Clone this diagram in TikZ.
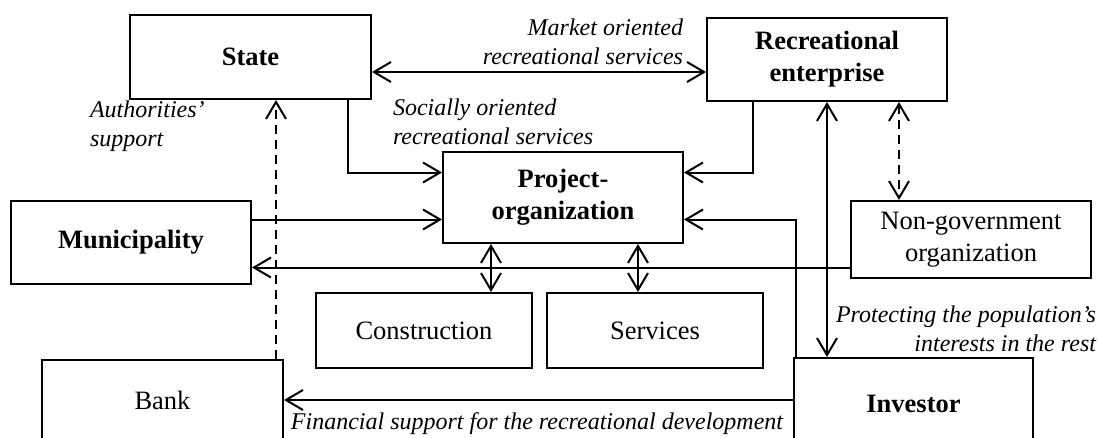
\documentclass[tikz,border=0pt]{standalone}
\usepackage{fontspec}
\setmainfont{Liberation Serif}
\usetikzlibrary{arrows.meta}

\begin{document}
\begin{tikzpicture}[
    x=1pt, y=-1pt,
    >={Straight Barb[length=17pt,width=20pt]},
    line width=2pt,
    block/.style={
        draw,
        rectangle,
        inner sep=0pt,
        align=center,
        font=\fontsize{26.5}{32}\selectfont
    },
    boldblock/.style={
        block,
        font=\fontsize{26.5}{32}\selectfont\bfseries
    },
    note/.style={
        inner sep=0pt,
        font=\fontsize{24}{28.5}\selectfont\itshape
    },
    dashline/.style={dash pattern=on 9pt off 6pt}
]
    \useasboundingbox (0,0) rectangle (1098,437);

    % Nodes
    \node[boldblock, minimum width=241pt, minimum height=84pt] (state) at (250.5,57)
    {State};

    \node[boldblock, minimum width=240pt, minimum height=83pt] (rec) at (827,59.5)
    {Recreational\\enterprise};

    \node[boldblock, minimum width=240pt, minimum height=91pt] (proj) at (563,197.5)
    {Project-\\organization};

    \node[boldblock, minimum width=240pt, minimum height=83pt] (muni) at (131,242.5)
    {Municipality};

    \node[block, minimum width=240pt, minimum height=77pt] (ngo) at (971,239.5)
    {Non-government\\organization};

    \node[block, minimum width=216pt, minimum height=75pt] (constr) at (424,330.5)
    {Construction};

    \node[block, minimum width=216pt, minimum height=75pt] (serv) at (655,330.5)
    {Services};

    \node[block, minimum width=241pt, minimum height=80pt] (bank) at (162.5,400)
    {Bank};

    \node[boldblock, minimum width=239pt, minimum height=92pt] (inv) at (913.5,404)
    {Investor};

    % Labels
    \node[note, anchor=east, align=right] (market) at (684,42)
    {Market oriented\\recreational services};
    \node[note, anchor=west, align=left] (social) at (392,122)
    {Socially oriented\\recreational services};
    \node[note, anchor=west, align=left] (authority) at (89,126)
    {Authorities’\\support};
    \node[note, anchor=east, align=right] (protect) at (1097,329)
    {Protecting the population’s\\interests in the rest};
    \node[note] (finance) at (537,424)
    {Financial support for the recreational development};

    % Arrows
    \draw[<->] ([yshift=-15pt]state.east) -- ([yshift=-15pt]state.east -| rec.west);
    \draw[->] ([xshift=-24pt]state.south east) |- ([yshift=25pt]proj.west);
    \draw[->] ([xshift=47pt]rec.south west) |- ([yshift=25pt]proj.east);
    \draw[->] ([yshift=-22pt]proj.west -| muni.east) -- ([yshift=-22pt]proj.west);
    \draw[->] ([yshift=-28pt]ngo.west) -- ([yshift=-28pt]ngo.west -| muni.east);
    \draw[->] ([xshift=3pt]inv.north west) |- ([yshift=-22pt]proj.east);
    \draw[<->] (rec.south) -- (rec.south |- inv.north);
    \draw[<->, dashline] ([xshift=72pt]rec.south) -- ([xshift=72pt]rec.south |- ngo.north);
    \draw[<->] ([xshift=-72pt]proj.south) -- ([xshift=-72pt]proj.south |- constr.north);
    \draw[<->] ([xshift=75pt]proj.south) -- ([xshift=75pt]proj.south |- serv.north);
    \draw[->, dashline] ([xshift=-8pt]bank.north east) -- ([xshift=-8pt]bank.north east |- state.south);
    \draw[->] ([yshift=4pt]inv.west) -- ([yshift=4pt]inv.west -| bank.east);

\end{tikzpicture}
\end{document}
